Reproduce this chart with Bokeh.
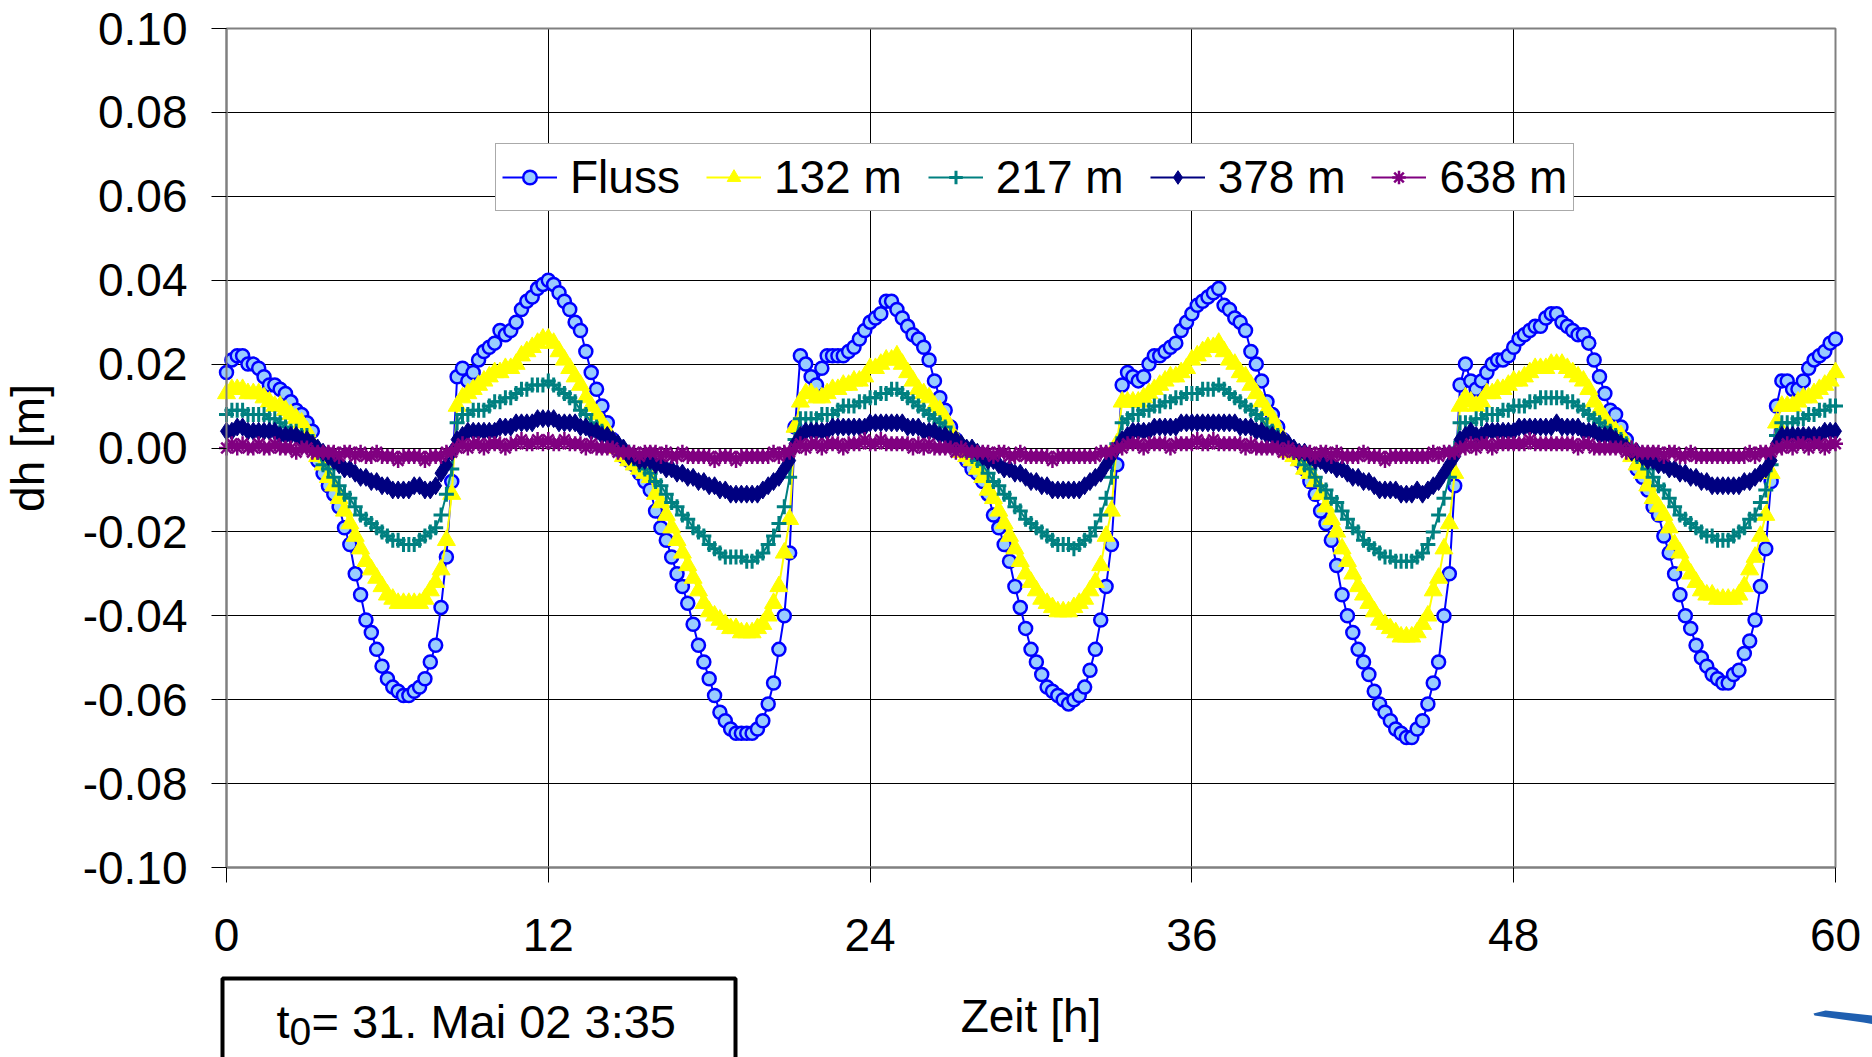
from bokeh.plotting import figure
from bokeh.models import (Range1d, FixedTicker, NumeralTickFormatter, Legend,
                          LegendItem, Label, BoxAnnotation, PolyAnnotation)
from bokeh.embed import file_html
from bokeh.resources import INLINE

# Sampling interval of the logger records (hours)
STEP_H = 0.2

# Water level deviation dh in mm, one row = 2 h (10 samples)
fluss_mm = [
    18, 21, 22, 22, 20, 20, 19, 17, 15, 15,
    14, 13, 11, 9, 8, 6, 4, -3, -6, -9,
    -11, -14, -19, -23, -30, -35, -41, -44, -48, -52,
    -55, -57, -58, -59, -59, -58, -57, -55, -51, -47,
    -38, -26, -8, 17, 19, 16, 18, 21, 23, 24,
    25, 28, 27, 28, 30, 33, 35, 36, 38, 39,
    40, 39, 37, 35, 33, 30, 28, 23, 18, 14,
    10, 6, 2, 0, -2, -3, -4, -6, -8, -10,
    -15, -19, -22, -26, -30, -33, -37, -42, -47, -51,
    -55, -59, -63, -65, -67, -68, -68, -68, -68, -67,
    -65, -61, -56, -48, -40, -25, 5, 22, 20, 17,
    15, 19, 22, 22, 22, 22, 23, 24, 26, 28,
    30, 31, 32, 35, 35, 33, 31, 29, 27, 26,
    24, 21, 16, 12, 9, 5, 2, 0, -3, -5,
    -6, -8, -11, -16, -19, -23, -27, -33, -38, -43,
    -48, -51, -54, -57, -58, -59, -60, -61, -60, -59,
    -57, -53, -48, -41, -33, -23, -4, 15, 18, 17,
    16, 17, 20, 22, 22, 23, 24, 25, 28, 30,
    32, 34, 35, 36, 37, 38, 34, 33, 31, 30,
    28, 23, 20, 16, 11, 8, 5, 2, 0, -1,
    -3, -5, -8, -11, -15, -18, -22, -28, -35, -40,
    -44, -48, -51, -54, -58, -61, -63, -65, -67, -68,
    -69, -69, -67, -65, -61, -56, -51, -40, -30, -9,
    15, 20, 16, 14, 16, 18, 20, 21, 21, 22,
    24, 26, 27, 28, 29, 29, 31, 32, 32, 30,
    29, 28, 27, 27, 25, 21, 17, 13, 9, 8,
    5, 2, -1, -5, -7, -10, -14, -16, -21, -25,
    -30, -35, -40, -43, -47, -50, -52, -54, -55, -56,
    -56, -54, -53, -49, -46, -41, -33, -24, -8, 10,
    16, 16, 14, 14, 16, 19, 21, 22, 23, 25,
    26,
]

m132_mm = [
    13, 14, 14, 14, 13, 13, 13, 12, 11, 10,
    10, 9, 8, 7, 6, 4, 1, -2, -4, -7,
    -9, -12, -15, -18, -21, -24, -27, -29, -31, -33,
    -35, -36, -37, -37, -37, -37, -37, -36, -34, -32,
    -29, -22, -11, 10, 12, 13, 14, 15, 16, 17,
    18, 18, 19, 19, 20, 22, 23, 24, 25, 26,
    26, 25, 23, 21, 19, 17, 15, 12, 10, 8,
    6, 4, 1, 0, -2, -3, -4, -5, -6, -7,
    -11, -13, -16, -19, -22, -25, -28, -31, -34, -37,
    -39, -40, -41, -42, -43, -43, -44, -44, -44, -43,
    -42, -40, -37, -33, -25, -17, 5, 11, 13, 13,
    12, 12, 13, 14, 14, 15, 15, 16, 16, 17,
    19, 19, 20, 21, 21, 22, 20, 18, 16, 14,
    13, 12, 10, 9, 7, 4, 2, -1, -2, -3,
    -5, -7, -10, -12, -15, -18, -21, -24, -27, -30,
    -32, -34, -36, -37, -38, -39, -39, -39, -38, -37,
    -36, -34, -32, -28, -21, -15, 1, 11, 11, 11,
    11, 12, 13, 14, 15, 16, 17, 17, 18, 19,
    21, 22, 23, 24, 24, 25, 23, 21, 20, 18,
    17, 15, 13, 11, 9, 7, 4, 2, -1, -2,
    -3, -5, -6, -8, -11, -14, -17, -20, -24, -27,
    -30, -33, -35, -37, -39, -41, -42, -43, -44, -45,
    -45, -45, -44, -42, -40, -34, -31, -24, -18, -6,
    10, 12, 11, 10, 11, 13, 13, 14, 14, 15,
    16, 16, 17, 18, 19, 19, 19, 20, 20, 20,
    19, 18, 17, 16, 14, 11, 9, 7, 5, 4,
    3, 1, -2, -4, -6, -9, -12, -14, -16, -19,
    -23, -25, -28, -30, -32, -34, -35, -35, -36, -36,
    -36, -36, -35, -33, -29, -26, -21, -16, -6, 6,
    10, 10, 10, 11, 12, 12, 13, 14, 15, 16,
    18,
]

m217_mm = [
    8, 9, 9, 9, 8, 8, 8, 8, 7, 7,
    6, 5, 4, 4, 3, 3, 1, -1, -4, -5,
    -7, -9, -11, -12, -14, -16, -17, -18, -19, -20,
    -21, -22, -22, -23, -23, -23, -22, -21, -20, -19,
    -16, -11, -5, 6, 8, 8, 9, 9, 9, 10,
    11, 11, 12, 12, 13, 14, 14, 15, 15, 15,
    16, 15, 14, 13, 12, 11, 9, 8, 6, 5,
    4, 3, 2, 1, 0, -1, -2, -4, -5, -6,
    -8, -9, -11, -13, -14, -16, -17, -19, -20, -21,
    -23, -24, -25, -26, -26, -26, -26, -27, -27, -26,
    -25, -23, -21, -18, -14, -7, 2, 7, 7, 7,
    7, 8, 8, 8, 9, 10, 10, 10, 11, 11,
    12, 12, 13, 13, 14, 14, 13, 12, 11, 10,
    9, 8, 7, 6, 5, 3, 2, 1, 0, -2,
    -3, -4, -6, -8, -9, -11, -12, -14, -15, -17,
    -18, -19, -20, -21, -22, -23, -23, -23, -24, -23,
    -22, -21, -19, -16, -12, -7, 1, 6, 7, 8,
    8, 9, 9, 10, 10, 11, 11, 12, 12, 13,
    13, 13, 14, 14, 14, 15, 14, 13, 12, 11,
    10, 9, 8, 7, 5, 4, 3, 2, 1, -1,
    -2, -4, -5, -7, -9, -10, -12, -13, -15, -17,
    -19, -20, -22, -23, -24, -25, -26, -26, -27, -27,
    -27, -27, -26, -25, -23, -20, -16, -12, -7, 0,
    6, 6, 6, 7, 7, 8, 8, 8, 9, 9,
    10, 10, 10, 11, 11, 12, 12, 12, 12, 12,
    11, 11, 10, 9, 8, 7, 6, 5, 4, 3,
    2, 1, 0, -2, -3, -5, -7, -9, -10, -12,
    -14, -16, -17, -18, -19, -20, -21, -21, -22, -22,
    -22, -21, -20, -19, -17, -16, -13, -10, -4, 3,
    6, 6, 6, 7, 7, 8, 8, 9, 9, 10,
    10,
]

m378_mm = [
    4, 4, 5, 5, 4, 4, 4, 4, 4, 4,
    3, 3, 3, 3, 2, 2, 1, 0, -1, -2,
    -3, -4, -5, -5, -6, -7, -7, -8, -8, -9,
    -9, -10, -10, -10, -10, -9, -9, -10, -10, -9,
    -6, -4, -1, 2, 3, 4, 4, 4, 4, 4,
    4, 5, 5, 5, 6, 6, 6, 6, 7, 7,
    7, 7, 6, 6, 6, 6, 5, 5, 4, 4,
    3, 3, 2, 1, 0, -2, -2, -3, -3, -3,
    -4, -4, -5, -5, -6, -6, -7, -7, -8, -8,
    -9, -9, -10, -10, -11, -11, -11, -11, -11, -11,
    -10, -9, -8, -7, -5, -3, 1, 3, 4, 4,
    4, 4, 4, 5, 5, 5, 5, 5, 5, 5,
    6, 6, 6, 6, 6, 6, 6, 5, 5, 5,
    4, 4, 4, 3, 3, 2, 2, 1, 0, 0,
    -1, -2, -3, -3, -4, -5, -5, -6, -6, -7,
    -8, -8, -9, -9, -10, -10, -10, -10, -10, -10,
    -9, -8, -7, -6, -4, -2, 0, 2, 3, 4,
    4, 4, 4, 5, 5, 5, 5, 5, 6, 6,
    6, 6, 6, 6, 6, 6, 6, 6, 6, 5,
    5, 5, 4, 4, 3, 3, 2, 2, 1, 0,
    -1, -1, -2, -3, -3, -4, -4, -5, -5, -6,
    -7, -7, -8, -8, -9, -10, -10, -10, -10, -11,
    -11, -11, -10, -11, -10, -9, -8, -6, -4, -2,
    2, 3, 4, 3, 3, 4, 4, 4, 4, 4,
    4, 5, 5, 5, 5, 5, 5, 5, 6, 5,
    5, 5, 5, 4, 4, 4, 3, 3, 3, 2,
    1, 0, -1, -1, -2, -3, -3, -4, -4, -5,
    -5, -6, -6, -7, -7, -8, -8, -9, -9, -9,
    -9, -9, -9, -8, -8, -7, -6, -5, -3, 1,
    3, 3, 3, 3, 3, 3, 3, 3, 4, 4,
    4,
]

m638_mm = [
    0, 1, 0, 1, 0, 0, 1, 0, 0, 1,
    0, 0, 0, -1, 0, 0, -1, -1, -1, -1,
    -1, -2, -1, -1, -2, -1, -2, -2, -1, -2,
    -2, -2, -3, -2, -2, -2, -2, -3, -2, -2,
    -2, -1, -1, 0, 1, 0, 1, 1, 0, 1,
    1, 1, 0, 1, 1, 2, 1, 1, 2, 1,
    2, 1, 1, 2, 1, 1, 1, 0, 1, 0,
    0, 0, 0, -1, -1, -1, -1, -2, -1, -1,
    -1, -2, -1, -2, -2, -1, -2, -2, -2, -2,
    -2, -3, -2, -2, -2, -3, -2, -2, -2, -2,
    -2, -2, -1, -2, -1, -1, 0, 1, 0, 1,
    1, 0, 1, 1, 1, 0, 1, 1, 1, 2,
    1, 1, 2, 1, 1, 1, 1, 1, 0, 1,
    0, 1, 0, 0, 0, 0, -1, 0, -1, -1,
    -1, -1, -1, -2, -1, -1, -2, -2, -1, -2,
    -2, -2, -2, -2, -3, -2, -2, -2, -2, -2,
    -2, -2, -2, -1, -1, -1, 0, 0, 1, 1,
    1, 0, 1, 1, 1, 1, 0, 1, 1, 1,
    1, 2, 1, 1, 2, 1, 1, 1, 1, 1,
    0, 1, 0, 0, 0, 0, 0, -1, 0, -1,
    -1, -1, -1, -2, -1, -1, -2, -1, -2, -2,
    -2, -2, -1, -2, -2, -2, -3, -2, -2, -2,
    -2, -2, -2, -2, -2, -1, -2, -1, -1, -1,
    0, 0, 1, 0, 1, 1, 0, 1, 1, 1,
    1, 1, 1, 2, 1, 1, 1, 1, 1, 1,
    1, 1, 0, 1, 1, 0, 0, 0, 0, 0,
    0, -1, 0, -1, -1, -1, -1, -1, -2, -1,
    -1, -2, -2, -1, -2, -2, -2, -2, -2, -2,
    -2, -2, -2, -2, -1, -2, -1, -1, -1, 0,
    0, 1, 0, 1, 1, 0, 1, 1, 0, 1,
    1,
]

series_labels = ["Fluss", "132 m", "217 m", "378 m", "638 m"]
series_values = [fluss_mm, m132_mm, m217_mm, m378_mm, m638_mm]

x_ticks = [0, 12, 24, 36, 48, 60]
y_ticks = [-0.10, -0.08, -0.06, -0.04, -0.02, 0.0, 0.02, 0.04, 0.06, 0.08, 0.10]
X_MIN, X_MAX = 0, 60
Y_MIN, Y_MAX = -0.10, 0.10

for vals in series_values:
    assert len(vals) == len(fluss_mm)
time_h = [round(i * STEP_H, 1) for i in range(len(fluss_mm))]

# ---- page geometry (pixels from the top left corner) ----
W, H = 1872, 1057
AX_LEFT, AX_TOP = 226, 28        # where x = 0 and y = 0.10 sit
AX_RIGHT, AX_BOTTOM = 1835, 867  # where x = 60 and y = -0.10 sit
px_per_h = (AX_RIGHT - AX_LEFT) / (X_MAX - X_MIN)
px_per_m = (AX_BOTTOM - AX_TOP) / (Y_MAX - Y_MIN)
# The frame covers the whole page, so the notes around the chart are drawn
# inside it; both axes are pinned to the chart's lower left edges.
x_lo = X_MIN - AX_LEFT / px_per_h
x_hi = X_MAX + (W - AX_RIGHT) / px_per_h
y_lo = Y_MIN - (H - AX_BOTTOM) / px_per_m
y_hi = Y_MAX + AX_TOP / px_per_m

FONT = "Liberation Sans"
FS = "46px"
GRID = "black"
BORDER = "#808080"

p = figure(width=W, height=H, output_backend="svg", toolbar_location=None,
           x_range=Range1d(x_lo, x_hi), y_range=Range1d(y_lo, y_hi),
           min_border_left=0, min_border_right=0, min_border_top=0,
           min_border_bottom=0)
p.background_fill_color = "white"
p.border_fill_color = "white"
p.outline_line_color = None

# axes
p.xaxis.ticker = FixedTicker(ticks=x_ticks)
p.yaxis.ticker = FixedTicker(ticks=y_ticks)
p.yaxis.formatter = NumeralTickFormatter(format="0.00")
p.xaxis.fixed_location = Y_MIN
p.yaxis.fixed_location = X_MIN
p.xaxis.bounds = (X_MIN, X_MAX)
p.yaxis.bounds = (Y_MIN, Y_MAX)
for ax in (p.xaxis[0], p.yaxis[0]):
    ax.axis_line_color = BORDER
    ax.axis_line_width = 2
    ax.major_tick_line_color = "black"
    ax.major_tick_out = 15
    ax.major_tick_in = 0
    ax.minor_tick_line_color = None
    ax.major_label_text_font = FONT
    ax.major_label_text_font_size = FS
    ax.major_label_text_color = "black"
    ax.axis_label_text_font = FONT
    ax.axis_label_text_font_size = FS
    ax.axis_label_text_font_style = "normal"
    ax.axis_label_text_color = "black"
p.xaxis.axis_label = "Zeit [h]"
p.yaxis.axis_label = "dh [m]"
p.yaxis.major_label_standoff = 24
p.xaxis.major_label_standoff = 36
p.yaxis.axis_label_standoff = 26
p.xaxis.axis_label_standoff = 36

# grid limited to the chart area
if "cross_bounds" in p.xgrid[0].properties():
    p.xgrid.cross_bounds = (Y_MIN, Y_MAX)
    p.ygrid.cross_bounds = (X_MIN, X_MAX)
    p.xgrid.bounds = (X_MIN, X_MAX)
    p.ygrid.bounds = (Y_MIN, Y_MAX)
    p.xgrid.grid_line_color = GRID
    p.ygrid.grid_line_color = GRID
else:
    p.xgrid.grid_line_color = None
    p.ygrid.grid_line_color = None
    p.segment(x0=x_ticks, x1=x_ticks, y0=[Y_MIN] * len(x_ticks),
              y1=[Y_MAX] * len(x_ticks), line_color=GRID, line_width=1,
              level="underlay")
    p.segment(x0=[X_MIN] * len(y_ticks), x1=[X_MAX] * len(y_ticks),
              y0=y_ticks, y1=y_ticks, line_color=GRID, line_width=1,
              level="underlay")
p.xgrid.grid_line_width = 1
p.ygrid.grid_line_width = 1

styles = [
    dict(color="#0000FF", marker="circle", size=13, fill="#99CCFF", lw=2.5),
    dict(color="#FFFF00", marker="triangle", size=18, fill="#FFFF00", lw=1),
    dict(color="#008080", marker="cross", size=15, fill=None, lw=3),
    dict(color="#000080", marker="diamond", size=18, fill="#000080", lw=1),
    dict(color="#800080", marker="asterisk", size=15, fill=None, lw=2.5),
]

items = []
for label, vals, st in zip(series_labels, series_values, styles):
    dh = [v / 1000.0 for v in vals]
    lr = p.line(time_h, dh, line_color=st["color"], line_width=2)
    sr = p.scatter(time_h, dh, marker=st["marker"], size=st["size"],
                   line_color=st["color"], line_width=st["lw"],
                   fill_color=st["fill"])
    items.append(LegendItem(label=label, renderers=[lr, sr]))

# chart border
p.add_layout(BoxAnnotation(left=X_MIN, right=X_MAX, bottom=Y_MIN, top=Y_MAX,
                           fill_alpha=0, line_color=BORDER, line_alpha=1,
                           line_width=2, level="underlay"))

legend = Legend(items=items, orientation="horizontal",
                location=(495, H - 211),
                label_text_font=FONT, label_text_font_size=FS,
                label_text_color="black", glyph_width=55, glyph_height=34,
                label_standoff=13, spacing=26, padding=6, margin=0,
                border_line_color="#555555", border_line_width=1.5,
                background_fill_color="white", background_fill_alpha=1)
p.add_layout(legend, "center")

# start-time note below the chart (screen units from the lower left corner)
p.add_layout(BoxAnnotation(left=222, right=735, top=H - 978, bottom=-20,
                           left_units="screen", right_units="screen",
                           top_units="screen", bottom_units="screen",
                           fill_alpha=0, line_color="black", line_alpha=1,
                           line_width=4))
NOTE_Y = H - 1036 + 15
p.add_layout(Label(x=276, y=NOTE_Y, x_units="screen", y_units="screen",
                   text="t", text_font=FONT, text_font_size="47px",
                   text_color="black", text_baseline="alphabetic"))
p.add_layout(Label(x=289, y=NOTE_Y - 10, x_units="screen", y_units="screen",
                   text="0", text_font=FONT, text_font_size="39px",
                   text_color="black", text_baseline="alphabetic"))
p.add_layout(Label(x=311, y=NOTE_Y, x_units="screen", y_units="screen",
                   text="= 31. Mai 02 3:35", text_font=FONT,
                   text_font_size="47px", text_color="black",
                   text_baseline="alphabetic"))

# corner logo fragment
logo_x = [1813, 1825, 1880, 1880, 1863, 1814]
logo_y = [1013, 1010, 1016, 1025, 1022, 1015]
p.add_layout(PolyAnnotation(xs=logo_x, ys=[H - y for y in logo_y],
                            xs_units="screen", ys_units="screen",
                            fill_color="#1F5FB0", fill_alpha=1, line_color=None))

open("out.html", "w").write(file_html(p, INLINE))
